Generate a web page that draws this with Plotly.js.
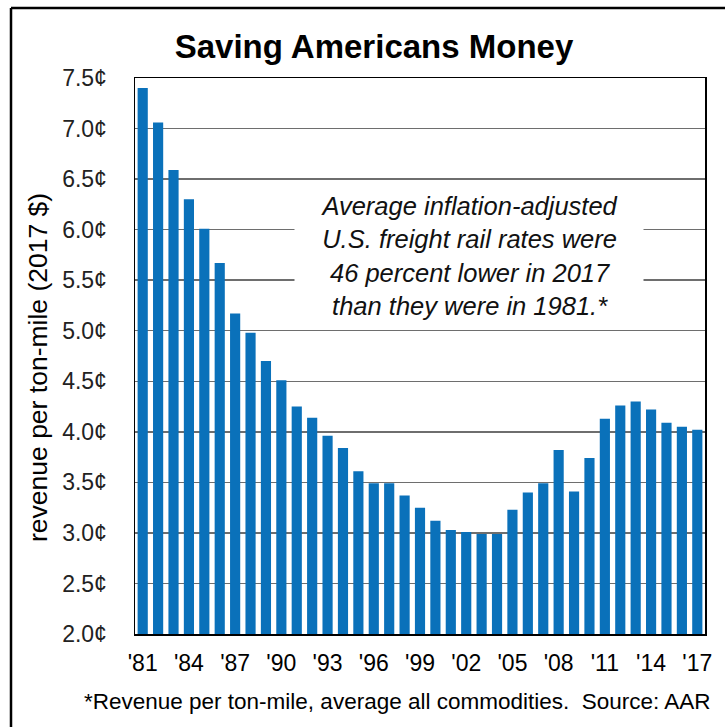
<!DOCTYPE html>
<html>
<head>
<meta charset="utf-8">
<script src="https://cdn.plot.ly/plotly-3.0.1.min.js"></script>
<style>html,body{margin:0;padding:0;background:#fff;}#chart{width:725px;height:727px;}</style>
</head>
<body>
<div id="chart"></div>
<script>
var years = [1981,1982,1983,1984,1985,1986,1987,1988,1989,1990,1991,1992,1993,1994,1995,1996,1997,1998,1999,2000,2001,2002,2003,2004,2005,2006,2007,2008,2009,2010,2011,2012,2013,2014,2015,2016,2017];
var revenueCents = [7.40,7.06,6.59,6.30,6.01,5.67,5.17,4.98,4.70,4.51,4.25,4.14,3.96,3.84,3.61,3.49,3.49,3.37,3.25,3.12,3.03,3.01,2.99,2.99,3.23,3.40,3.49,3.82,3.41,3.74,4.13,4.26,4.30,4.22,4.09,4.05,4.02];
var xTickVals = [1981,1984,1987,1990,1993,1996,1999,2002,2005,2008,2011,2014,2017];
var xTickText = ["'81","'84","'87","'90","'93","'96","'99","'02","'05","'08","'11","'14","'17"];
var yTickVals = [2.0,2.5,3.0,3.5,4.0,4.5,5.0,5.5,6.0,6.5,7.0,7.5];
var yTickText = ["2.0¢","2.5¢","3.0¢","3.5¢","4.0¢","4.5¢","5.0¢","5.5¢","6.0¢","6.5¢","7.0¢","7.5¢"];

var W = 725, H = 727;
var mL = 135, mR = 20, mT = 78, mB = 93;
var pw = W - mL - mR, ph = H - mT - mB;
function px(x){ return (x - mL) / pw; }
function py(y){ return (H - mB - y) / ph; }

var font = "Arial, 'Liberation Sans', sans-serif";

var data = [{
  type: 'bar',
  x: years,
  y: revenueCents,
  marker: {color: '#0A71BA'},
  hoverinfo: 'x+y'
}];

var layout = {
  width: W, height: H,
  margin: {l: mL, r: mR, t: mT, b: mB},
  paper_bgcolor: '#fff', plot_bgcolor: '#fff',
  bargap: 0.34,
  showlegend: false,
  font: {family: font, color: '#000'},
  title: {
    text: '<b>Saving Americans Money</b>',
    font: {family: font, size: 33, color: '#000'},
    x: px(374), xanchor: 'center', xref: 'paper',
    y: 1 - 46/H, yanchor: 'middle', yref: 'container'
  },
  xaxis: {
    range: [1980.5, 2017.5],
    tickvals: xTickVals, ticktext: xTickText,
    tickfont: {family: font, size: 23, color: '#000'},
    ticks: '', showgrid: false,
    showline: true, linecolor: '#000', linewidth: 1.5, mirror: true,
    ticklabelstandoff: 8,
    layer: 'above traces', fixedrange: true
  },
  yaxis: {
    range: [2.0, 7.5],
    tickvals: yTickVals, ticktext: yTickText,
    tickfont: {family: font, size: 23, color: '#222'},
    ticks: '', showgrid: true, gridcolor: '#6e6e6e', gridwidth: 1.5,
    showline: true, linecolor: '#000', linewidth: 1.5, mirror: true,
    zeroline: false,
    ticklabelstandoff: 22,
    layer: 'above traces', fixedrange: true
  },
  shapes: [
    {
      type: 'line', xref: 'paper', yref: 'paper',
      x0: px(11), x1: px(760), y0: py(8), y1: py(8),
      line: {color: '#000', width: 2.5}, layer: 'above'
    },
    {
      type: 'line', xref: 'paper', yref: 'paper',
      x0: px(11), x1: px(11), y0: py(8), y1: py(760),
      line: {color: '#000', width: 2.5}, layer: 'above'
    }
  ],
  annotations: [
    {
      text: 'revenue per ton-mile (2017 $)',
      xref: 'paper', yref: 'paper', x: px(38), y: py(368),
      xanchor: 'center', yanchor: 'middle', textangle: -90, showarrow: false,
      font: {family: font, size: 26.5, color: '#000'}
    },
    {
      text: '<i>Average inflation-adjusted<br>U.S. freight rail rates were<br>46 percent lower in 2017<br>than they were in 1981.*</i>',
      xref: 'paper', yref: 'paper', x: px(469), y: py(256),
      xanchor: 'center', yanchor: 'middle', showarrow: false,
      width: 346, height: 142, align: 'center', bgcolor: '#fff',
      font: {family: font, size: 25.5, color: '#111'}
    },
    {
      text: '*Revenue per ton-mile, average all commodities.  Source: AAR',
      xref: 'paper', yref: 'paper', x: px(397), y: py(701),
      xanchor: 'center', yanchor: 'middle', showarrow: false,
      font: {family: font, size: 22.5, color: '#000'}
    }
  ]
};

Plotly.newPlot('chart', data, layout, {displayModeBar: false, staticPlot: true});
</script>
</body>
</html>
